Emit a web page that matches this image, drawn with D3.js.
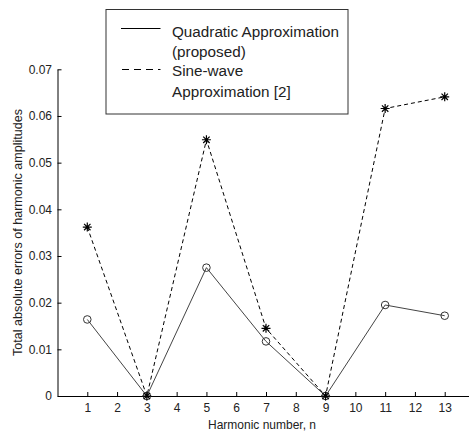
<!DOCTYPE html>
<html><head><meta charset="utf-8">
<script src="https://cdn.jsdelivr.net/npm/d3@7"></script>
<style>body{margin:0;background:#fff}text{font-family:"Liberation Sans",Arial,sans-serif;fill:#222}</style>
</head><body><svg id="c" width="469" height="434"></svg>
<script>
const harmonics = [1, 3, 5, 7, 9, 11, 13];
const quadratic = [0.0164, 0, 0.0275, 0.0117, 0, 0.0195, 0.0172];
const sineWave = [0.0362, 0, 0.0549, 0.0145, 0, 0.0616, 0.0641];
const xTicks = [1,2,3,4,5,6,7,8,9,10,11,12,13];
const yTicks = [0,0.01,0.02,0.03,0.04,0.05,0.06,0.07];
const legendLabels = [["Quadratic Approximation","(proposed)"],["Sine-wave","Approximation [2]"]];

const svg = d3.select("#c");
const x = d3.scaleLinear().domain([0,14]).range([57.5,474.5]);
const y = d3.scaleLinear().domain([0,0.07]).range([396,69.3]);

function fit(sel, target){ // scale font so text width matches target
  const n = sel.node(); const fs = parseFloat(sel.attr("font-size"));
  const w = n.getComputedTextLength(); sel.attr("font-size", (fs*target/w).toFixed(2)+"px");
}

const gx = svg.append("g").attr("transform","translate(0,396)")
  .call(d3.axisBottom(x).tickValues(xTicks).tickSizeInner(-4).tickSizeOuter(0).tickPadding(7).tickFormat(d3.format("d")));
const gy = svg.append("g").attr("transform","translate(57.5,0)")
  .call(d3.axisLeft(y).tickValues(yTicks).tickSizeInner(-4).tickSizeOuter(0).tickPadding(5.5).tickFormat(d=>d===0?"0":d3.format(".2f")(d)));
[gx,gy].forEach(g=>{g.select(".domain").attr("stroke","#000");g.selectAll(".tick line").attr("stroke","#000");
  g.selectAll("text").attr("font-size","12px").attr("fill","#222").attr("font-family","Liberation Sans, Arial, sans-serif");});

const xl = svg.append("text").attr("x",262).attr("y",429).attr("text-anchor","middle").attr("font-size","12px").text("Harmonic number, n");
fit(xl,108);
const yl = svg.append("text").attr("transform","translate(22,232.5) rotate(-90)").attr("text-anchor","middle").attr("font-size","12px").text("Total absolute errors of harmonic amplitudes");
fit(yl,247);

const line = d3.line().x((d,i)=>x(harmonics[i])).y(d=>y(d));
svg.append("path").datum(sineWave).attr("d",line).attr("fill","none").attr("stroke","#000").attr("stroke-width",1).attr("stroke-dasharray","4,3");
svg.append("path").datum(quadratic).attr("d",line).attr("fill","none").attr("stroke","#444").attr("stroke-width",1);

svg.append("g").selectAll("circle").data(quadratic).join("circle")
  .attr("cx",(d,i)=>x(harmonics[i])).attr("cy",d=>y(d)).attr("r",3.8)
  .attr("fill","none").attr("stroke","#333").attr("stroke-width",1);
const star = svg.append("g").selectAll("g").data(sineWave).join("g")
  .attr("transform",(d,i)=>`translate(${x(harmonics[i])},${y(d)})`);
star.append("path").attr("d","M-4.5,0H4.5M0,-4.5V4.5M-3.2,-3.2L3.2,3.2M-3.2,3.2L3.2,-3.2").attr("stroke","#000").attr("stroke-width",1.2);

const lg = svg.append("g");
lg.append("rect").attr("x",106).attr("y",9.5).attr("width",242).attr("height",104.5).attr("fill","#fff").attr("stroke","#333");
lg.append("line").attr("x1",121).attr("x2",160.5).attr("y1",28.5).attr("y2",28.5).attr("stroke","#000");
lg.append("line").attr("x1",122).attr("x2",160.5).attr("y1",69.5).attr("y2",69.5).attr("stroke","#000").attr("stroke-dasharray","7,5");
const ly = [[36.5,56.5],[76,96.5]];
let fsz = null;
legendLabels.forEach((ls,i)=>ls.forEach((t,j)=>{
  const tx = lg.append("text").attr("x",172).attr("y",ly[i][j]).attr("font-size","14px").text(t);
  if(i===0&&j===0){ fit(tx,167); fsz = tx.attr("font-size"); } else tx.attr("font-size",fsz);
}));
</script></body></html>
